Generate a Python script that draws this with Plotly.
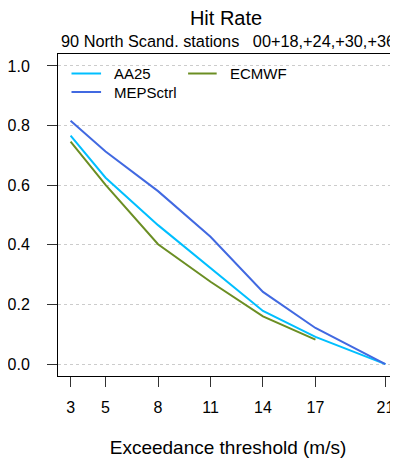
import plotly.graph_objects as go

thresholds = [3, 5, 8, 11, 14, 17, 21]
aa25 = [0.766, 0.625, 0.466, 0.321, 0.178, 0.091, 0.0]
meps = [0.816, 0.713, 0.580, 0.427, 0.242, 0.121, 0.0]
ecmwf_x = [3, 5, 8, 11, 14, 17]
ecmwf = [0.746, 0.601, 0.402, 0.276, 0.160, 0.082]
y_ticks = [0.0, 0.2, 0.4, 0.6, 0.8, 1.0]

FONT = "Liberation Sans, Arial, Helvetica, sans-serif"
COLORS = {"AA25": "#00BFFF", "MEPSctrl": "#4169E1", "ECMWF": "#6B8E23"}

# page body adds an 8px offset; figure size compensates
W, H = 390, 454
L, R, T, B = 45, 0, 46, 86
PW, PH = W - L - R, H - T - B


def px(x, y):
    """absolute page pixel -> paper coords"""
    fx, fy = x - 8, y - 8
    return (fx - L) / PW, 1 - (fy - T) / PH


fig = go.Figure()
fig.add_trace(go.Scatter(x=thresholds, y=aa25, mode="lines", name="AA25",
                         line=dict(color=COLORS["AA25"], width=2)))
fig.add_trace(go.Scatter(x=ecmwf_x, y=ecmwf, mode="lines", name="ECMWF",
                         line=dict(color=COLORS["ECMWF"], width=2)))
fig.add_trace(go.Scatter(x=thresholds, y=meps, mode="lines", name="MEPSctrl",
                         line=dict(color=COLORS["MEPSctrl"], width=2)))

# legend (drawn as key lines + labels)
legend_items = [("AA25", 66.7, 96.7, 108, 73.5),
                ("MEPSctrl", 66.7, 96.7, 108, 92),
                ("ECMWF", 185, 214, 226, 73.5)]
shapes, annotations = [], []
for name, x0, x1, xt, y in legend_items:
    px0, py = px(x0, y)
    px1, _ = px(x1, y)
    ptx, _ = px(xt, y)
    shapes.append(dict(type="line", xref="paper", yref="paper", x0=px0, x1=px1, y0=py, y1=py,
                       line=dict(color=COLORS[name], width=2)))
    annotations.append(dict(text=name, xref="paper", yref="paper", x=ptx, y=py,
                            xanchor="left", yanchor="middle", showarrow=False,
                            font=dict(size=15)))

sx, sy = px(225, 52)
annotations.append(dict(text="90 North Scand. stations\u00a0\u00a0\u00a000+18,+24,+30,+36",
                        xref="paper", yref="paper", x=sx, y=sy, xanchor="center",
                        yanchor="bottom", showarrow=False, font=dict(size=16.3)))

fig.update_layout(
    width=W, height=H,
    margin=dict(l=L, r=R, t=T, b=B),
    paper_bgcolor="white", plot_bgcolor="white",
    font=dict(family=FONT, size=16, color="black"),
    showlegend=False,
    title=dict(text="Hit Rate", x=(226 - 8) / W, xanchor="center",
               y=1 - (18 - 8) / H, yanchor="middle", font=dict(size=20)),
    shapes=shapes,
    annotations=annotations,
)

fig.update_xaxes(range=[2.28, 21.72], tickvals=thresholds, ticktext=[str(t) for t in thresholds],
                 showgrid=False, zeroline=False, showline=True, linecolor="black", linewidth=1,
                 mirror=True, ticks="outside", ticklen=10, tickcolor="#333", tickwidth=1,
                 ticklabelstandoff=7,
                 title=dict(text="Exceedance threshold (m/s)", standoff=25))
fig.update_yaxes(range=[-0.04, 1.04], tickvals=y_ticks, tickformat=".1f",
                 showgrid=True, gridcolor="#cccccc", griddash="dot", gridwidth=1,
                 zeroline=False, showline=True, linecolor="black", linewidth=1,
                 ticks="outside", ticklen=10, tickcolor="#333", tickwidth=1,
                 ticklabelstandoff=14)

fig.write_html("out.html")
